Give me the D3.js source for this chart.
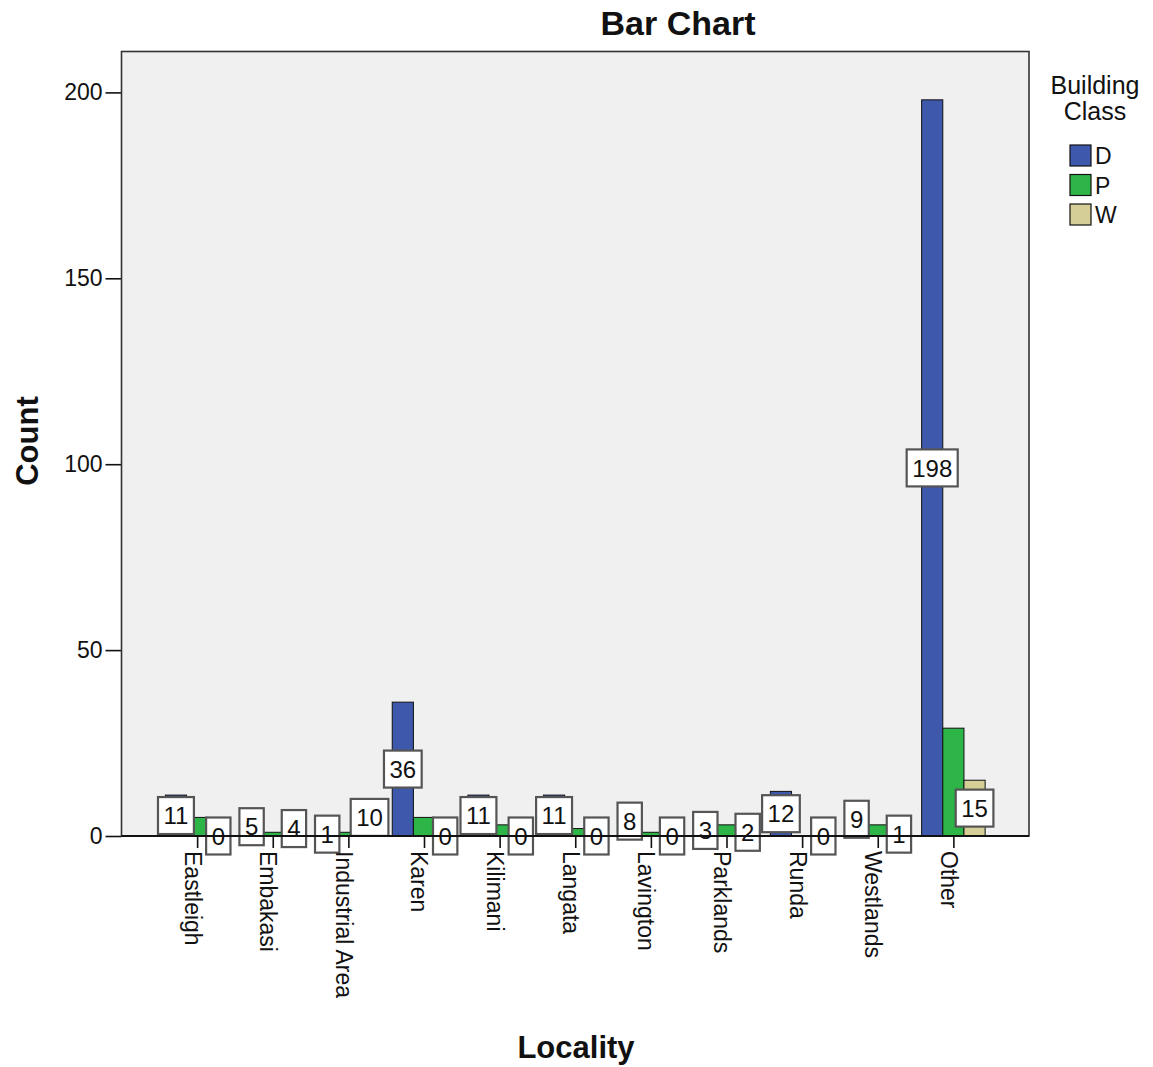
<!DOCTYPE html>
<html>
<head>
<meta charset="utf-8">
<script src="https://cdn.jsdelivr.net/npm/d3@7"></script>
<style>
  html, body { margin: 0; padding: 0; background: #fff; }
  svg text { font-family: Arial, "Liberation Sans", sans-serif; fill: #111; }
</style>
</head>
<body>
<svg id="chart" width="1153" height="1067"></svg>
<script>
// Counts of buildings per locality, split by building class
const localities = ["Eastleigh", "Embakasi", "Industrial Area", "Karen", "Kilimani",
  "Langata", "Lavington", "Parklands", "Runda", "Westlands", "Other"];
const classes = ["D", "P", "W"];
const countD = [11, 5, 1, 36, 11, 11, 8, 3, 12, 9, 198];
const countP = [5, 1, 1, 5, 3, 2, 1, 3, 0, 3, 29];
const countW = [0, 4, 10, 0, 0, 0, 0, 2, 0, 1, 15];
const yTicks = [0, 50, 100, 150, 200];
const classColors = ["#3e58ac", "#2eb548", "#d5cf97"];
// value labels are shown for these classes (P labels collide and are suppressed)
const labelledClasses = ["D", "W"];

const seriesByClass = { D: countD, P: countP, W: countW };
const rows = localities.map((loc, i) => ({
  locality: loc,
  values: classes.map(c => ({ cls: c, value: seriesByClass[c][i] }))
}));

const svg = d3.select("#chart");
const plot = { left: 121.5, right: 1029, top: 51.5, bottom: 836 };

const x = d3.scalePoint().domain(localities).range([plot.left, plot.right]).padding(1);
const step = x.step();
const xInner = d3.scaleBand().domain(classes).range([-0.42 * step, 0.42 * step]);
const y = d3.scaleLinear().domain([0, 211]).range([plot.bottom, plot.top]);
const color = d3.scaleOrdinal().domain(classes).range(classColors);

// plot background
svg.append("rect")
  .attr("x", plot.left).attr("y", plot.top)
  .attr("width", plot.right - plot.left).attr("height", plot.bottom - plot.top)
  .attr("fill", "#f0f0f0");

// bars
const groups = svg.append("g").selectAll("g").data(rows).join("g")
  .attr("transform", d => `translate(${x(d.locality)},0)`);

groups.selectAll("rect").data(d => d.values).join("rect")
  .attr("x", d => xInner(d.cls))
  .attr("y", d => y(d.value))
  .attr("width", xInner.bandwidth())
  .attr("height", d => y(0) - y(d.value))
  .attr("fill", d => color(d.cls))
  .attr("stroke", "#111")
  .attr("stroke-width", 1);

// y axis
const yAxis = d3.axisLeft(y).tickValues(yTicks).tickSize(16).tickPadding(3);
const gy = svg.append("g").attr("transform", `translate(${plot.left},0)`).call(yAxis);
gy.select(".domain").remove();
gy.selectAll(".tick line").attr("stroke", "#111").attr("stroke-width", 1.6);
gy.selectAll(".tick text").attr("font-size", 23).attr("fill", "#111")
  .attr("font-family", "Arial, 'Liberation Sans', sans-serif");

// x axis with vertical category names
const xAxis = d3.axisBottom(x).tickSize(12).tickPadding(0);
const gx = svg.append("g").attr("transform", `translate(0,${plot.bottom})`).call(xAxis);
gx.select(".domain").remove();
gx.selectAll(".tick line").attr("stroke", "#111").attr("stroke-width", 1.6);
gx.selectAll(".tick text")
  .attr("font-size", 23).attr("fill", "#111")
  .attr("font-family", "Arial, 'Liberation Sans', sans-serif")
  .attr("text-anchor", "start")
  .attr("transform", "translate(0,15) rotate(90)")
  .attr("x", 0).attr("y", 0).attr("dy", "0.57em").attr("dx", 0);

// plot frame and zero baseline
svg.append("rect")
  .attr("x", plot.left).attr("y", plot.top)
  .attr("width", plot.right - plot.left).attr("height", plot.bottom - plot.top)
  .attr("fill", "none").attr("stroke", "#333").attr("stroke-width", 1.6);
svg.append("line")
  .attr("x1", plot.left).attr("x2", plot.right)
  .attr("y1", plot.bottom).attr("y2", plot.bottom)
  .attr("stroke", "#111").attr("stroke-width", 2);

// value labels in boxes at mid-height of each bar
const labels = groups.selectAll("g.vlabel")
  .data(d => d.values.filter(v => labelledClasses.includes(v.cls)))
  .join("g").attr("class", "vlabel")
  .attr("transform", d => `translate(${xInner(d.cls) + xInner.bandwidth() / 2},${y(d.value / 2)})`);

labels.append("rect").attr("class", "box");
labels.append("text")
  .attr("text-anchor", "middle").attr("dy", "0.36em")
  .attr("font-size", 24).attr("fill", "#111")
  .text(d => d.value);
labels.each(function () {
  const g = d3.select(this);
  const w = g.select("text").node().getComputedTextLength() + 11;
  const h = 37;
  g.select("rect.box")
    .attr("x", -w / 2).attr("y", -h / 2).attr("width", w).attr("height", h)
    .attr("fill", "#fff").attr("stroke", "#555").attr("stroke-width", 2.2);
});

// titles
svg.append("text").attr("x", 678).attr("y", 35).attr("text-anchor", "middle")
  .attr("font-size", 34).attr("font-weight", "bold").text("Bar Chart");
svg.append("text").attr("transform", "translate(38,441) rotate(-90)")
  .attr("text-anchor", "middle").attr("font-size", 31).attr("font-weight", "bold").text("Count");
svg.append("text").attr("x", 576).attr("y", 1058).attr("text-anchor", "middle")
  .attr("font-size", 31).attr("font-weight", "bold").text("Locality");

// legend
const legend = svg.append("g").attr("transform", "translate(1070,0)");
legend.append("text").attr("x", 25).attr("y", 94).attr("text-anchor", "middle")
  .attr("font-size", 25).attr("fill", "#222").text("Building");
legend.append("text").attr("x", 25).attr("y", 120).attr("text-anchor", "middle")
  .attr("font-size", 25).attr("fill", "#222").text("Class");
const items = legend.selectAll("g.item").data(classes).join("g").attr("class", "item")
  .attr("transform", (d, i) => `translate(0,${145 + i * 29.5})`);
items.append("rect").attr("width", 21).attr("height", 21)
  .attr("fill", d => color(d)).attr("stroke", "#111").attr("stroke-width", 1.2);
items.append("text").attr("x", 25).attr("y", 19).attr("font-size", 23).attr("fill", "#222")
  .text(d => d);
</script>
</body>
</html>
